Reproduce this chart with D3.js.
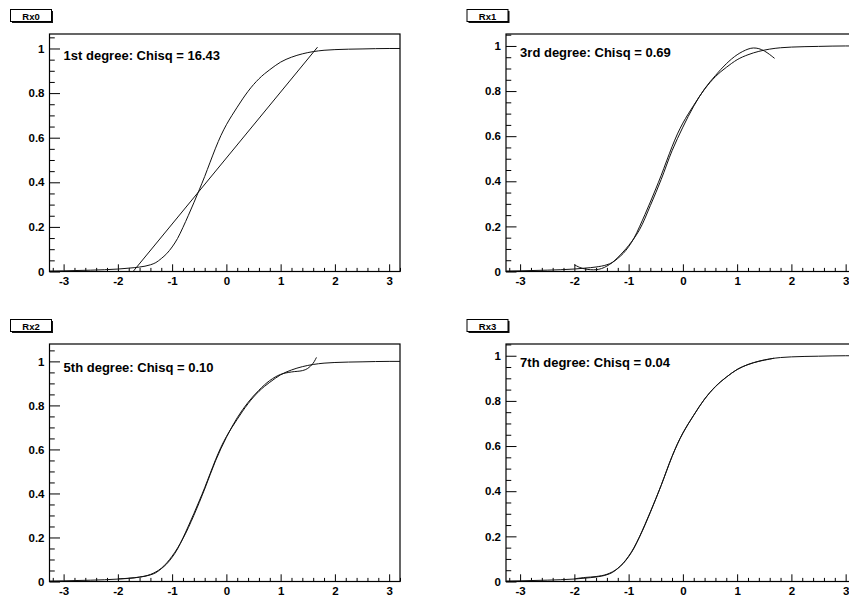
<!DOCTYPE html>
<html>
<head>
<meta charset="utf-8">
<script src="https://cdnjs.cloudflare.com/ajax/libs/d3/7.8.5/d3.min.js"></script>
<style>
  html, body { margin: 0; padding: 0; background: #fff; }
  svg { display: block; font-family: "Liberation Sans", Arial, Helvetica, sans-serif; }
</style>
</head>
<body>
<svg id="chart" width="849" height="599"></svg>
<script>
// cumulative curve
const cumX = [-3.26, -3.0, -2.5, -2.0, -1.8, -1.6, -1.4, -1.3, -1.2, -1.1, -1.0, -0.9, -0.8, -0.7, -0.6,
  -0.5, -0.4, -0.3, -0.2, -0.1, 0.0, 0.1, 0.2, 0.3, 0.4, 0.5, 0.6, 0.7, 0.8, 0.9, 1.0, 1.2, 1.4,
  1.6, 1.8, 2.0, 2.5, 3.0, 3.2];
const cumY = [0.002, 0.003, 0.006, 0.011, 0.015, 0.020, 0.030, 0.040, 0.058, 0.080, 0.110, 0.148, 0.198, 0.252, 0.308,
  0.366, 0.426, 0.490, 0.553, 0.610, 0.658, 0.699, 0.737, 0.774, 0.808, 0.838, 0.864, 0.886, 0.905, 0.923, 0.939, 0.961, 0.976,
  0.986, 0.992, 0.995, 0.998, 1.0, 1.0];

// polynomial fits
const fit1X = [-2.0, 1.68];
const fit1Y = [-0.083, 1.006];

const fit3X = [-2.0, -1.9, -1.8, -1.7, -1.6, -1.5, -1.4, -1.3, -1.2, -1.0, -0.8, -0.6, -0.4, -0.2, 0.0, 0.2, 0.4, 0.6, 0.8, 1.0, 1.2, 1.3, 1.4, 1.5, 1.6, 1.69];
const fit3Y = [0.030, 0.018, 0.011, 0.008, 0.008, 0.013, 0.024, 0.040, 0.062, 0.115, 0.185, 0.292, 0.408, 0.535, 0.640, 0.733, 0.810, 0.869, 0.921, 0.961, 0.986, 0.991, 0.988, 0.978, 0.962, 0.945];

const fit5X = [-2.0, -1.8, -1.6, -1.4, -1.2, -1.0, -0.8, -0.6, -0.4, -0.2, 0.0, 0.2, 0.4, 0.6, 0.8, 1.0, 1.2, 1.4, 1.5, 1.6, 1.66];
const fit5Y = [0.012, 0.014, 0.020, 0.032, 0.060, 0.115, 0.195, 0.300, 0.420, 0.548, 0.655, 0.744, 0.814, 0.869, 0.913, 0.941, 0.952, 0.958, 0.968, 0.992, 1.018];

const fit7X = [-2.0, -1.8, -1.6, -1.4, -1.2, -1.0, -0.8, -0.6, -0.4, -0.2, 0.0, 0.2, 0.4, 0.6, 0.8, 1.0, 1.2, 1.4, 1.6, 1.68];
const fit7Y = [0.012, 0.018, 0.022, 0.032, 0.058, 0.112, 0.197, 0.306, 0.426, 0.554, 0.657, 0.736, 0.808, 0.863, 0.905, 0.939, 0.961, 0.975, 0.985, 0.989];

const padTitles = ["Rx0", "Rx1", "Rx2", "Rx3"];
const fitLabels = ["1st degree: Chisq = 16.43", "3rd degree: Chisq = 0.69", "5th degree: Chisq = 0.10", "7th degree: Chisq = 0.04"];
const padYMax = [1.065, 1.053, 1.079, 1.052];

const xTicks = [-3, -2, -1, 0, 1, 2, 3];
const xTickLabels = ["-3", "-2", "-1", "0", "1", "2", "3"];
const yTicks = [0, 0.2, 0.4, 0.6, 0.8, 1];
const yTickLabels = ["0", "0.2", "0.4", "0.6", "0.8", "1"];

const fits = [
  { x: fit1X, y: fit1Y },
  { x: fit3X, y: fit3Y },
  { x: fit5X, y: fit5Y },
  { x: fit7X, y: fit7Y }
];

const svg = d3.select("#chart");
svg.append("rect").attr("width", 849).attr("height", 599).attr("fill", "#fff");

const padW = 456.5, padH = 310;
const frame = { left: 49.5, right: 400, top: 34, bottom: 271.5 };

padTitles.forEach(function(title, i) {
  const ox = (i % 2) * padW;
  const oy = Math.floor(i / 2) * padH;
  const pad = svg.append("g").attr("transform", "translate(" + ox + "," + oy + ")");

  const x = d3.scaleLinear().domain([-3.26, 3.2]).range([frame.left, frame.right]);
  const y = d3.scaleLinear().domain([0, padYMax[i]]).range([frame.bottom, frame.top]);

  // title box with shadow
  pad.append("rect").attr("x", 12).attr("y", 11).attr("width", 41).attr("height", 12).attr("fill", "#111");
  pad.append("rect").attr("x", 10.5).attr("y", 9.5).attr("width", 41).attr("height", 12)
    .attr("fill", "#fff").attr("stroke", "#000").attr("stroke-width", 1);
  pad.append("text").attr("x", 31).attr("y", 19.5).attr("text-anchor", "middle")
    .attr("font-size", 9.5).attr("font-weight", "bold").text(title);

  // clip for curves
  const clipId = "clip" + i;
  pad.append("clipPath").attr("id", clipId).append("rect")
    .attr("x", frame.left).attr("y", frame.top)
    .attr("width", frame.right - frame.left).attr("height", frame.bottom - frame.top);

  // Y axis (ticks point inward)
  const yMinor = d3.range(0, padYMax[i] + 1e-9, 0.05).map(function(v) { return +v.toFixed(2); })
    .filter(function(v) { return yTicks.indexOf(v) < 0; });
  pad.append("g").attr("transform", "translate(" + frame.left + ",0)")
    .call(d3.axisLeft(y).tickValues(yMinor).tickSize(-5.25).tickFormat(""))
    .call(function(g) { g.select(".domain").remove(); });
  const yAxis = pad.append("g").attr("transform", "translate(" + frame.left + ",0)")
    .call(d3.axisLeft(y).tickValues(yTicks).tickSize(-10.5).tickPadding(5)
      .tickFormat(function(d, j) { return yTickLabels[j]; }));
  yAxis.select(".domain").remove();

  // X axis (ticks point up)
  const xMinor = d3.range(-3.2, 3.21, 0.2).map(function(v) { return +v.toFixed(1); })
    .filter(function(v) { return xTicks.indexOf(v) < 0; });
  pad.append("g").attr("transform", "translate(0," + frame.bottom + ")")
    .call(d3.axisBottom(x).tickValues(xMinor).tickSize(-3.6).tickFormat(""))
    .call(function(g) { g.select(".domain").remove(); });
  const xAxis = pad.append("g").attr("transform", "translate(0," + frame.bottom + ")")
    .call(d3.axisBottom(x).tickValues(xTicks).tickSize(-7.2).tickPadding(5.8)
      .tickFormat(function(d, j) { return xTickLabels[j]; }));
  xAxis.select(".domain").remove();

  pad.selectAll(".tick text")
    .attr("font-family", "'Liberation Sans', Arial, sans-serif")
    .attr("font-size", 11.5).attr("font-weight", "bold").attr("fill", "#000");
  pad.selectAll(".tick line").attr("stroke", "#000");

  // frame
  pad.append("rect").attr("x", frame.left).attr("y", frame.top)
    .attr("width", frame.right - frame.left).attr("height", frame.bottom - frame.top)
    .attr("fill", "none").attr("stroke", "#000").attr("stroke-width", 1.2);

  const curves = pad.append("g").attr("clip-path", "url(#" + clipId + ")");

  const cumLine = d3.line()
    .x(function(d) { return x(d[0]); })
    .y(function(d) { return y(d[1]); })
    .curve(d3.curveMonotoneX);
  curves.append("path").datum(d3.zip(cumX, cumY))
    .attr("d", cumLine).attr("fill", "none").attr("stroke", "#111").attr("stroke-width", 1);

  const fitLine = d3.line()
    .x(function(d) { return x(d[0]); })
    .y(function(d) { return y(d[1]); })
    .curve(d3.curveCatmullRom.alpha(0.5));
  curves.append("path").datum(d3.zip(fits[i].x, fits[i].y))
    .attr("d", fitLine).attr("fill", "none").attr("stroke", "#111").attr("stroke-width", 1);

  // fit label at (-3, 0.95)
  pad.append("text").attr("x", x(-3)).attr("y", y(0.95))
    .attr("font-size", 13).attr("font-weight", "bold").text(fitLabels[i]);
});
</script>
</body>
</html>
